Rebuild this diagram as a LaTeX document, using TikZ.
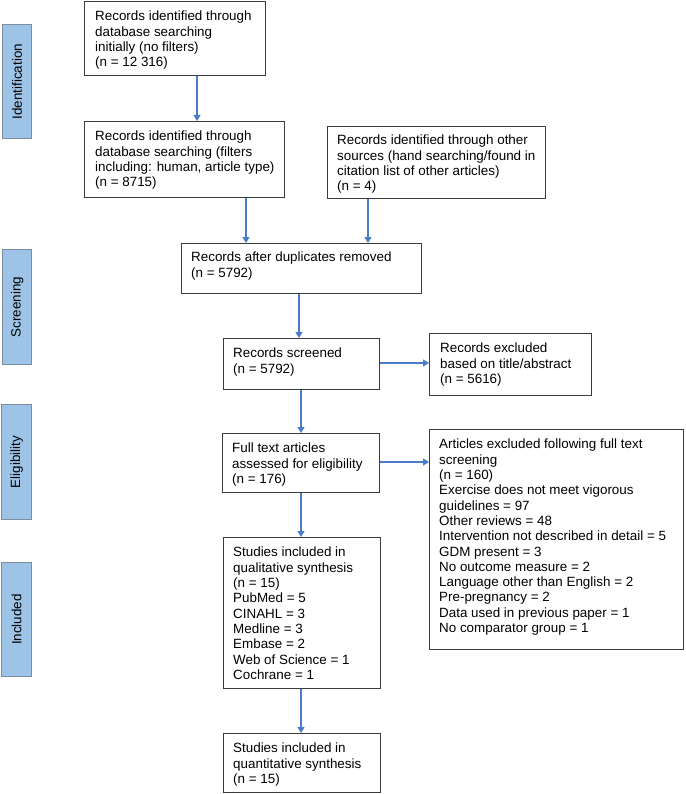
\documentclass[tikz,border=0pt]{standalone}
\usepackage{fontspec}
\setmainfont{Liberation Sans}
\usetikzlibrary{arrows.meta,positioning}
\definecolor{arrblue}{HTML}{4A7CCB}
\definecolor{barfill}{HTML}{9DC3E6}
\definecolor{barline}{HTML}{7D8D9C}
\definecolor{boxline}{HTML}{3C3C3C}
\tikzset{
  box/.style={draw=boxline, line width=1.2pt, rectangle, inner sep=0pt, anchor=north west},
  bar/.style={draw=barline, fill=barfill, line width=1.2pt, rectangle, inner sep=0pt, anchor=north west},
  txt/.style={anchor=north west, inner sep=0pt, align=left, font=\fontsize{13.4}{15.3}\selectfont},
  bartxt/.style={rotate=90, inner sep=0pt, font=\fontsize{13.4}{15}\selectfont},
  arr/.style={draw=arrblue, line width=1.2pt, -{Triangle[length=6pt,width=7pt,fill=arrblue]}}
}
\begin{document}
\begin{tikzpicture}[x=1pt,y=-1pt]
\useasboundingbox (0,0) rectangle (685,794);
% phase bars
\node[bar, minimum width=29pt, minimum height=114pt] (p1) at (2,24) {};
\node[bartxt] (p1t) at (p1.center) {Identification};
\node[bar, minimum width=29pt, minimum height=115pt] (p2) at (2,249) {};
\node[bartxt] (p2t) at (p2.center) {Screening};
\node[bar, minimum width=30pt, minimum height=115pt] (p3) at (1,404) {};
\node[bartxt] (p3t) at (p3.center) {Eligibility};
\node[bar, minimum width=30pt, minimum height=114pt] (p4) at (1,562) {};
\node[bartxt] (p4t) at (p4.center) {Included};
% boxes
\node[box, minimum width=181pt, minimum height=74pt] (b1) at (84,1) {};
\node[txt] (b1t) at ([shift={(11pt,-10pt)}]b1.north west) {Records identified through\\database searching\\initially (no filters)\\(n = 12 316)};
\node[box, minimum width=200pt, minimum height=76pt] (b2) at (84,121) {};
\node[txt] (b2t) at ([shift={(11pt,-10pt)}]b2.north west) {Records identified through\\database searching (filters\\including: human, article type)\\(n = 8715)};
\node[box, minimum width=218pt, minimum height=72pt] (b3) at (327,126) {};
\node[txt] (b3t) at ([shift={(10pt,-9pt)}]b3.north west) {Records identified through other\\sources (hand searching/found in\\citation list of other articles)\\(n = 4)};
\node[box, minimum width=240pt, minimum height=50pt] (b4) at (181,243) {};
\node[txt] (b4t) at ([shift={(10pt,-9pt)}]b4.north west) {Records after duplicates removed\\(n = 5792)};
\node[box, minimum width=156pt, minimum height=51pt] (b5) at (223,338) {};
\node[txt] (b5t) at ([shift={(10pt,-10pt)}]b5.north west) {Records screened\\(n = 5792)};
\node[box, minimum width=162pt, minimum height=62pt] (b6) at (429,333) {};
\node[txt] (b6t) at ([shift={(11pt,-10pt)}]b6.north west) {Records excluded\\based on title/abstract\\(n = 5616)};
\node[box, minimum width=157pt, minimum height=59pt] (b7) at (222,433) {};
\node[txt] (b7t) at ([shift={(10pt,-10pt)}]b7.north west) {Full text articles\\assessed for eligibility\\(n = 176)};
\node[box, minimum width=254pt, minimum height=220pt] (b8) at (429,429) {};
\node[txt] (b8t) at ([shift={(10pt,-10pt)}]b8.north west) {Articles excluded following full text\\screening\\(n = 160)\\Exercise does not meet vigorous\\guidelines = 97\\Other reviews = 48\\Intervention not described in detail = 5\\GDM present = 3\\No outcome measure = 2\\Language other than English = 2\\Pre-pregnancy = 2\\Data used in previous paper = 1\\No comparator group = 1};
\node[box, minimum width=157pt, minimum height=151pt] (b9) at (223,537) {};
\node[txt] (b9t) at ([shift={(10pt,-10pt)}]b9.north west) {Studies included in\\qualitative synthesis\\(n = 15)\\PubMed = 5\\CINAHL = 3\\Medline = 3\\Embase = 2\\Web of Science = 1\\Cochrane = 1};
\node[box, minimum width=157pt, minimum height=59pt] (b10) at (223,733) {};
\node[txt] (b10t) at ([shift={(10pt,-10pt)}]b10.north west) {Studies included in\\quantitative synthesis\\(n = 15)};
% helper coordinates
\coordinate (xa) at (197,0);
\coordinate (xb) at (246,0);
\coordinate (xc) at (368,0);
\coordinate (xd) at (299,0);
\coordinate (xe) at (301,0);
\coordinate (ya) at (0,363);
\coordinate (yb) at (0,462);
% connectors
\draw[arr] (b1.south -| xa) -- (b2.north -| xa);
\draw[arr] (b2.south -| xb) -- (b4.north -| xb);
\draw[arr] (b3.south -| xc) -- (b4.north -| xc);
\draw[arr] (b4.south -| xd) -- (b5.north -| xd);
\draw[arr] (b5.east |- ya) -- (b6.west |- ya);
\draw[arr] (b5.south -| xe) -- (b7.north -| xe);
\draw[arr] (b7.east |- yb) -- (b8.west |- yb);
\draw[arr] (b7.south -| xe) -- (b9.north -| xe);
\draw[arr] (b9.south -| xe) -- (b10.north -| xe);
\end{tikzpicture}
\end{document}
